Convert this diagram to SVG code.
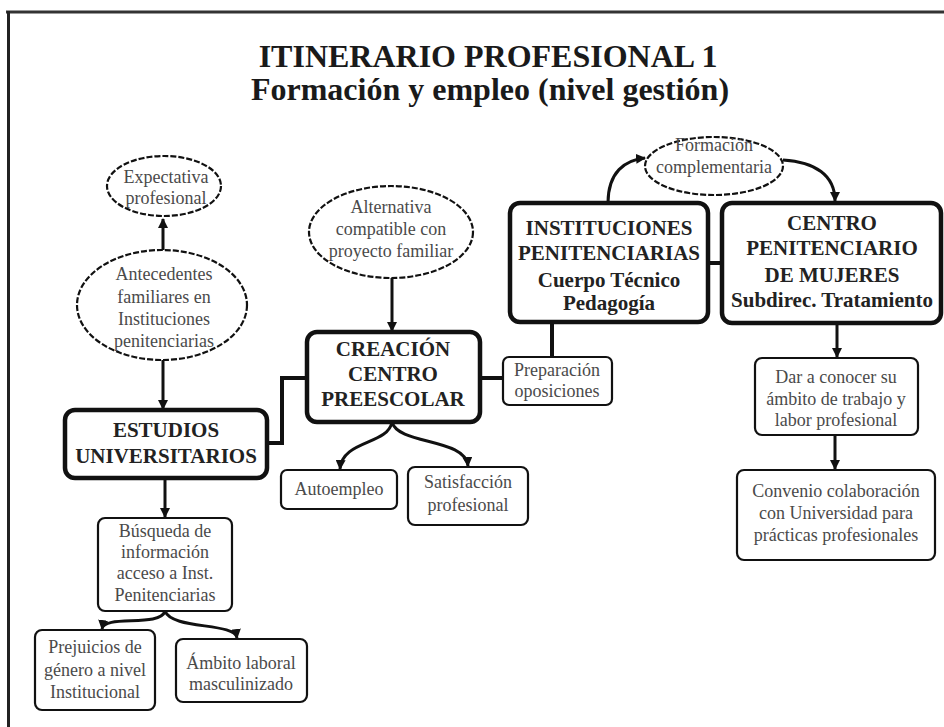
<svg xmlns="http://www.w3.org/2000/svg" width="944" height="727" viewBox="0 0 944 727">
<style>
.t{font-family:"Liberation Serif","Times New Roman",serif;text-anchor:middle}
.title{font-size:32px;font-weight:bold;fill:#1a1a1a}
.b{font-size:21px;font-weight:bold;fill:#222}
.s{font-size:18px;fill:#4a4a4a}
.thick{fill:#fff;stroke:#111;stroke-width:4.5}
.thin{fill:#fff;stroke:#111;stroke-width:2.2}
.ell{fill:#fff;stroke:#111;stroke-width:2.2;stroke-dasharray:6 2}
.c{fill:none;stroke:#111;stroke-width:3}
.ct{fill:none;stroke:#111;stroke-width:4}
</style>
<defs>
<marker id="arr" viewBox="0 0 10 10" refX="9" refY="5" markerWidth="10" markerHeight="10" orient="auto" markerUnits="userSpaceOnUse">
<path d="M0,0 L10,5 L0,10 z" fill="#111"/>
</marker>
</defs>
<rect width="944" height="727" fill="#fff"/>
<g id="frame">
<line x1="6" y1="12" x2="944" y2="12" stroke="#333" stroke-width="3"/>
<line x1="8.5" y1="11" x2="8.5" y2="727" stroke="#222" stroke-width="3"/>
</g>
<g id="title">
<text class="t title" x="488" y="67">ITINERARIO PROFESIONAL 1</text>
<text class="t title" x="490" y="100">Formación y empleo (nivel gestión)</text>
</g>
<g id="connectors">
<path class="c" d="M163,250 L163,219" marker-end="url(#arr)"/>
<path class="c" d="M163,360 L163,409" marker-end="url(#arr)"/>
<path class="c" d="M165,478 L165,517" marker-end="url(#arr)"/>
<path class="c" d="M165,611 C160,628 104,614 102,629" marker-end="url(#arr)"/>
<path class="c" d="M165,611 C172,630 235,622 237,638" marker-end="url(#arr)"/>
<path class="ct" d="M267,443 L282,443 L282,378 L307,378"/>
<path class="c" d="M392,278 L392,331" marker-end="url(#arr)"/>
<path class="c" d="M392,422 C388,445 342,440 340,469" marker-end="url(#arr)"/>
<path class="c" d="M392,422 C398,445 466,438 468,466" marker-end="url(#arr)"/>
<path class="ct" d="M480,378 L503,378"/>
<path class="ct" d="M552,322 L552,357"/>
<path class="ct" d="M708,263 L722,263"/>
<path class="c" d="M608,203 C608,172 625,160 645,158" marker-end="url(#arr)"/>
<path class="c" d="M783,160 C815,162 835,175 835,201" marker-end="url(#arr)"/>
<path class="c" d="M837,323 L837,357" marker-end="url(#arr)"/>
<path class="c" d="M835,435 L835,469" marker-end="url(#arr)"/>
</g>
<g id="expectativa">
<ellipse class="ell" cx="164" cy="186" rx="57" ry="30"/>
<text class="t s" x="166" y="183">Expectativa</text>
<text class="t s" x="166" y="204">profesional</text>
</g>
<g id="antecedentes">
<ellipse class="ell" cx="162" cy="305" rx="85" ry="55"/>
<text class="t s" x="164" y="280">Antecedentes</text>
<text class="t s" x="164" y="303">familiares en</text>
<text class="t s" x="164" y="325">Instituciones</text>
<text class="t s" x="164" y="347">penitenciarias</text>
</g>
<g id="estudios">
<rect class="thick" x="65" y="410" width="202" height="68" rx="10"/>
<text class="t b" x="166" y="437">ESTUDIOS</text>
<text class="t b" x="166" y="463">UNIVERSITARIOS</text>
</g>
<g id="busqueda">
<rect class="thin" x="98" y="518" width="134" height="93" rx="7"/>
<text class="t s" x="165" y="537">Búsqueda de</text>
<text class="t s" x="165" y="558">información</text>
<text class="t s" x="165" y="579">acceso a Inst.</text>
<text class="t s" x="165" y="601">Penitenciarias</text>
</g>
<g id="prejuicios">
<rect class="thin" x="35" y="630" width="120" height="80" rx="7"/>
<text class="t s" x="95" y="653">Prejuicios de</text>
<text class="t s" x="95" y="676">género a nivel</text>
<text class="t s" x="95" y="698">Institucional</text>
</g>
<g id="ambito">
<rect class="thin" x="176" y="639" width="131" height="63" rx="7"/>
<text class="t s" x="241" y="669">Ámbito laboral</text>
<text class="t s" x="241" y="690">masculinizado</text>
</g>
<g id="alternativa">
<ellipse class="ell" cx="391" cy="232" rx="82" ry="46"/>
<text class="t s" x="391" y="213">Alternativa</text>
<text class="t s" x="391" y="235">compatible con</text>
<text class="t s" x="391" y="257">proyecto familiar</text>
</g>
<g id="creacion">
<rect class="thick" x="307" y="332" width="173" height="90" rx="10"/>
<text class="t b" x="393" y="356">CREACIÓN</text>
<text class="t b" x="393" y="381">CENTRO</text>
<text class="t b" x="393" y="406">PREESCOLAR</text>
</g>
<g id="autoempleo">
<rect class="thin" x="281" y="470" width="116" height="39" rx="6"/>
<text class="t s" x="339" y="495">Autoempleo</text>
</g>
<g id="satisfaccion">
<rect class="thin" x="408" y="467" width="120" height="58" rx="7"/>
<text class="t s" x="468" y="488">Satisfacción</text>
<text class="t s" x="468" y="511">profesional</text>
</g>
<g id="preparacion">
<rect class="thin" x="503" y="357" width="109" height="48" rx="6"/>
<text class="t s" x="557" y="376">Preparación</text>
<text class="t s" x="557" y="397">oposiciones</text>
</g>
<g id="instituciones">
<rect class="thick" x="510" y="203" width="198" height="119" rx="10"/>
<text class="t b" x="609" y="235">INSTITUCIONES</text>
<text class="t b" x="609" y="260">PENITENCIARIAS</text>
<text class="t b" x="609" y="287">Cuerpo Técnico</text>
<text class="t b" x="609" y="310">Pedagogía</text>
</g>
<g id="formacion">
<ellipse class="ell" cx="714" cy="166" rx="69" ry="29"/>
<text class="t s" x="714" y="151">Formación</text>
<text class="t s" x="714" y="173">complementaria</text>
</g>
<g id="centro">
<rect class="thick" x="722" y="203" width="219" height="120" rx="10"/>
<text class="t b" x="832" y="230">CENTRO</text>
<text class="t b" x="832" y="255">PENITENCIARIO</text>
<text class="t b" x="832" y="282">DE MUJERES</text>
<text class="t b" x="832" y="307">Subdirec. Tratamiento</text>
</g>
<g id="dar">
<rect class="thin" x="755" y="358" width="163" height="77" rx="7"/>
<text class="t s" x="836" y="383">Dar a conocer su</text>
<text class="t s" x="836" y="405">ámbito de trabajo y</text>
<text class="t s" x="836" y="426">labor profesional</text>
</g>
<g id="convenio">
<rect class="thin" x="737" y="470" width="198" height="90" rx="7"/>
<text class="t s" x="836" y="497">Convenio colaboración</text>
<text class="t s" x="836" y="519">con Universidad para</text>
<text class="t s" x="836" y="541">prácticas profesionales</text>
</g>
</svg>
